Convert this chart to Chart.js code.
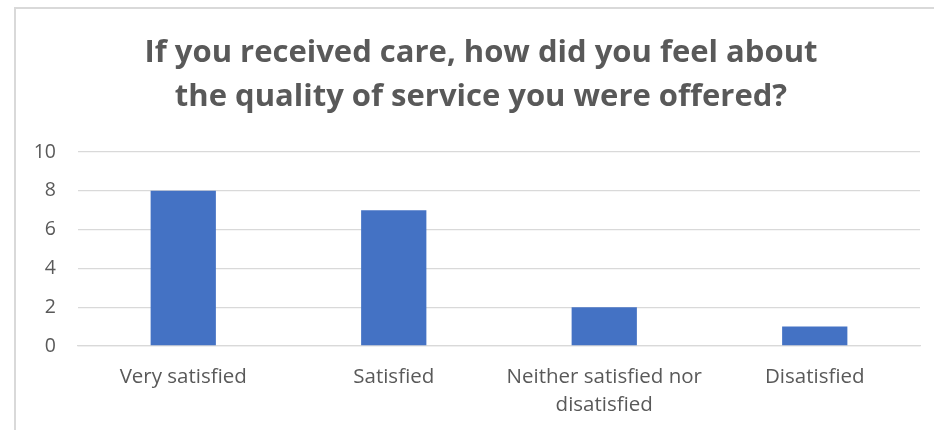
<!DOCTYPE html>
<html>
<head>
<meta charset="utf-8">
<script src="https://cdn.jsdelivr.net/npm/chart.js@4/dist/chart.umd.min.js"></script>
<style>
    html, body { margin: 0; padding: 0; background: #ffffff; }
    #wrap { position: relative; width: 934px; height: 430px; overflow: hidden; }
    #frame {
        position: absolute; left: 14px; top: 7px; width: 1000px; height: 1000px;
        border-left: 2px solid #d9d9d9; border-top: 2px solid #d9d9d9;
    }
    canvas { position: absolute; left: 0; top: 0; }
</style>
</head>
<body>
<div id="wrap">
    <div id="frame"></div>
    <canvas id="surveyChart" width="934" height="430"></canvas>
</div>
<script>
// Survey answers
const categories = ['Very satisfied', 'Satisfied', ['Neither satisfied nor', 'disatisfied'], 'Disatisfied'];
const responses = [8, 7, 2, 1];
const titleLines = ['If you received care, how did you feel about', 'the quality of service you were offered?'];
const yTicks = [0, 2, 4, 6, 8, 10];

const textGrey = '#595959';

// nudge the title a little to the right, the original is centred on its frame
const titleShift = {
    id: 'titleShift',
    afterLayout(chart) {
        if (chart.titleBlock) {
            chart.titleBlock.left += 14;
            chart.titleBlock.right += 14;
        }
    }
};

const ctx = document.getElementById('surveyChart').getContext('2d');
const chart = new Chart(ctx, {
    type: 'bar',
    data: {
        labels: categories,
        datasets: [{
            label: 'Responses',
            data: responses,
            backgroundColor: '#4472c4',
            borderWidth: 0,
            categoryPercentage: 1,
            barPercentage: 0.31
        }]
    },
    options: {
        responsive: false,
        animation: false,
        layout: { padding: { left: 14, right: 14, top: 0, bottom: 0 } },
        plugins: {
            legend: { display: false },
            tooltip: { enabled: false },
            title: {
                display: true,
                text: titleLines,
                color: textGrey,
                font: { family: 'Open Sans', size: 31, weight: 'bold', lineHeight: 1.42 },
                padding: { top: 31, bottom: 33 }
            }
        },
        scales: {
            y: {
                min: 0,
                max: 10,
                afterBuildTicks: (scale) => { scale.ticks = yTicks.map(v => ({ value: v })); },
                afterFit: (scale) => { scale.width = 64; },
                border: { display: false },
                grid: { color: '#d9d9d9', lineWidth: 1.3, drawTicks: false },
                ticks: { color: textGrey, padding: 22, font: { family: 'Open Sans', size: 19.5 } }
            },
            x: {
                afterFit: (scale) => { scale.height = 84; },
                border: { color: '#d9d9d9', width: 1.3 },
                grid: { display: false, drawTicks: false },
                ticks: { color: textGrey, padding: 18, maxRotation: 0, autoSkip: false, font: { family: 'Open Sans', size: 20.5, lineHeight: 1.33 } }
            }
        }
    },
    plugins: [titleShift]
});
</script>
</body>
</html>
